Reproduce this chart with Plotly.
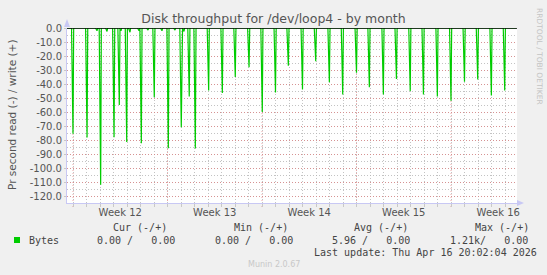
import plotly.graph_objects as go
from datetime import datetime, timedelta

# ---------------- data ----------------
x_start = "2026-03-14 13:20"
x_end = "2026-04-16 21:20"

spike_times = [
    "2026-03-15 00:00", "2026-03-16 01:00", "2026-03-17 01:10", "2026-03-18 01:00",
    "2026-03-18 10:20", "2026-03-18 23:30", "2026-03-20 01:30", "2026-03-21 00:30",
    "2026-03-22 01:30", "2026-03-23 00:30", "2026-03-23 14:40", "2026-03-24 01:30",
    "2026-03-25 01:10", "2026-03-26 01:30", "2026-03-27 00:30", "2026-03-28 01:00",
    "2026-03-29 00:30", "2026-03-30 00:00", "2026-03-30 22:50", "2026-04-01 00:00",
    "2026-04-01 23:30", "2026-04-02 23:45", "2026-04-03 23:30", "2026-04-05 00:00",
    "2026-04-05 22:50", "2026-04-06 23:45", "2026-04-07 23:00", "2026-04-08 23:30",
    "2026-04-09 23:00", "2026-04-10 23:45", "2026-04-12 00:00", "2026-04-13 00:00",
    "2026-04-13 23:30", "2026-04-14 23:45", "2026-04-15 23:30",
]
read_values = [
    75.5, 78.3, 112.0, 78.0,
    55.0, 81.5, 82.3, 49.4,
    85.9, 70.8, 49.0, 86.0,
    44.6, 46.5, 35.0, 28.0,
    60.0, 46.0, 26.9, 44.0,
    23.7, 38.7, 47.5, 31.9,
    42.3, 47.5, 36.4, 45.0,
    47.5, 49.0, 51.9, 38.3,
    36.8, 48.2, 44.6,
]
small_times = [
    "2026-03-16 18:40", "2026-03-17 12:30", "2026-03-18 13:20", "2026-03-19 05:20",
    "2026-03-19 21:20", "2026-03-20 13:20", "2026-03-21 14:10", "2026-03-22 13:20",
    "2026-03-23 05:20",
]
small_values = [2.0, 2.5, 2.0, 3.0, 2.0, 1.5, 2.0, 1.5, 2.5]

week_starts = ["2026-03-15", "2026-03-22", "2026-03-29", "2026-04-05", "2026-04-12"]
week_label_pos = ["2026-03-18 12:00", "2026-03-25 12:00", "2026-04-01 12:00",
                  "2026-04-08 12:00", "2026-04-15 12:00"]
week_labels = ["Week 12", "Week 13", "Week 14", "Week 15", "Week 16"]

y_tick_values = [0, -10, -20, -30, -40, -50, -60, -70, -80, -90, -100, -110, -120]
y_tick_labels = ["0.0", "-10.0", "-20.0", "-30.0", "-40.0", "-50.0", "-60.0",
                 "-70.0", "-80.0", "-90.0", "-100.0", "-110.0", "-120.0"]

legend_headers = ["Cur (-/+)", "Min (-/+)", "Avg (-/+)", "Max (-/+)"]
legend_values = ["0.00 /   0.00", "0.00 /   0.00", "5.96 /   0.00", "1.21k/   0.00"]
series_name = "Bytes"
last_update = "Last update: Thu Apr 16 20:02:04 2026"

# ---------------- build series ----------------
fmt = "%Y-%m-%d %H:%M"
events = sorted(
    [(datetime.strptime(t, fmt), v) for t, v in zip(spike_times, read_values)]
    + [(datetime.strptime(t, fmt), v) for t, v in zip(small_times, small_values)]
)
before = timedelta(hours=2.6)
after = timedelta(hours=1.2)
xs = [datetime.strptime(x_start, fmt)]
ys = [0.0]
for t, v in events:
    xs += [t - before, t, t + after]
    ys += [0.0, -v, 0.0]
xs.append(datetime(2026, 4, 16, 20, 2))
ys.append(0.0)

fig = go.Figure()
fig.add_trace(go.Scatter(x=xs, y=ys, mode="lines",
                         line=dict(color="#00cc00", width=1.2), showlegend=False,
                         hoverinfo="skip"))

# ---------------- layout helpers ----------------
L, R, T, B = 67, 30, 28, 72
W, H = 547, 275
PW, PH = W - L - R, H - T - B


def px(x, y):
    return (x - L) / PW, (H - B - y) / PH


shapes = []
# week boundary (major) lines
for ws in week_starts:
    shapes.append(dict(type="line", xref="x", yref="paper", x0=ws, x1=ws,
                       y0=-4 / PH, y1=1, layer="below",
                       line=dict(color="rgba(225,120,120,0.65)", width=1, dash="1px,2px")))
# zero rule
shapes.append(dict(type="line", xref="paper", yref="y", x0=0, x1=1, y0=0, y1=0,
                   line=dict(color="#000000", width=1.5), layer="above"))
# axis arrows
ax0, ay0 = px(67, 27)
ax1, ay1 = px(67, 19)
shapes.append(dict(type="path", xref="paper", yref="paper",
                   path=f"M {px(64,27)[0]} {ay0} L {px(70,27)[0]} {ay0} L {ax1} {ay1} Z",
                   fillcolor="#c8c8f4", line=dict(width=0)))
bx0, by0 = px(517, 203)
bx1, _ = px(524, 203)
shapes.append(dict(type="path", xref="paper", yref="paper",
                   path=f"M {bx0} {px(0,200)[1]} L {bx0} {px(0,206)[1]} L {bx1} {by0} Z",
                   fillcolor="#c8c8f4", line=dict(width=0)))
shapes.append(dict(type="line", xref="paper", yref="paper", x0=1, x1=bx0 + 2 / PW,
                   y0=0, y1=0, line=dict(color="#c8c8f4", width=1)))
# legend colour box
lx0, ly0 = px(14, 243)
lx1, ly1 = px(20, 237)
shapes.append(dict(type="rect", xref="paper", yref="paper", x0=lx0, x1=lx1,
                   y0=ly0, y1=ly1, fillcolor="#00cc00", line=dict(width=0)))

mono = dict(family="DejaVu Sans Mono", size=10, color="#444444")
annotations = []


def txt(text, x, y, font, xanchor="left", angle=0):
    ppx, ppy = px(x, y)
    annotations.append(dict(text=text, x=ppx, y=ppy, xref="paper", yref="paper",
                            xanchor=xanchor, yanchor="middle", showarrow=False,
                            font=font, textangle=angle))


txt(series_name, 27, 240, mono)
for h, xh in zip(legend_headers, [111, 232, 352, 473]):
    txt(h, xh, 227, mono)
for v, xv in zip(legend_values, [95, 213, 330, 448]):
    txt(v, xv, 240, mono)
txt(last_update, 312, 252, mono)
txt("Munin 2.0.67", 273.5, 264, dict(family="DejaVu Sans", size=8, color="#c8c8c8"),
    xanchor="center")
txt("RRDTOOL / TOBI OETIKER", 540, 56, dict(family="DejaVu Sans", size=7.5, color="#c4c4c4"),
    xanchor="center", angle=90)
txt("Pr second read (-) / write (+)", 12, 115,
    dict(family="DejaVu Sans", size=10.5, color="#555555"), xanchor="center", angle=-90)

fig.update_layout(
    width=W, height=H,
    margin=dict(l=L, r=R, t=T, b=B, pad=0),
    paper_bgcolor="#f0f0f0", plot_bgcolor="#ffffff",
    title=dict(text="Disk throughput for /dev/loop4 - by month", x=0.5, xanchor="center",
               xref="container", y=1 - 19 / H, yref="container", yanchor="middle",
               font=dict(family="DejaVu Sans", size=12.5, color="#555555")),
    shapes=shapes, annotations=annotations, showlegend=False,
)
fig.update_xaxes(
    type="date", range=[x_start, x_end],
    tickmode="array", tickvals=week_label_pos, ticktext=week_labels,
    showgrid=False, ticks="", zeroline=False,
    showline=True, linecolor="#c8c8f4", linewidth=1,
    tickfont=dict(family="DejaVu Sans", size=10, color="#555555"),
    minor=dict(tickmode="linear", tick0="2026-03-15", dtick=86400000,
               showgrid=True, gridcolor="rgba(180,180,180,0.8)", griddash="1px,2px",
               ticks="outside", ticklen=3, tickcolor="#c8c8c8"),
)
fig.update_yaxes(
    range=[-125, 0], tickmode="array", tickvals=y_tick_values, ticktext=y_tick_labels,
    showgrid=True, gridcolor="rgba(225,120,120,0.65)", griddash="1px,2px",
    zeroline=False, ticks="outside", ticklen=2, tickcolor="#c8c8c8",
    showline=True, linecolor="#c8c8f4", linewidth=1,
    tickfont=dict(family="DejaVu Sans", size=10, color="#555555"),
    minor=dict(tickmode="linear", tick0=0, dtick=5, showgrid=True,
               gridcolor="rgba(180,180,180,0.8)", griddash="1px,2px"),
)

fig.write_html("out.html")
